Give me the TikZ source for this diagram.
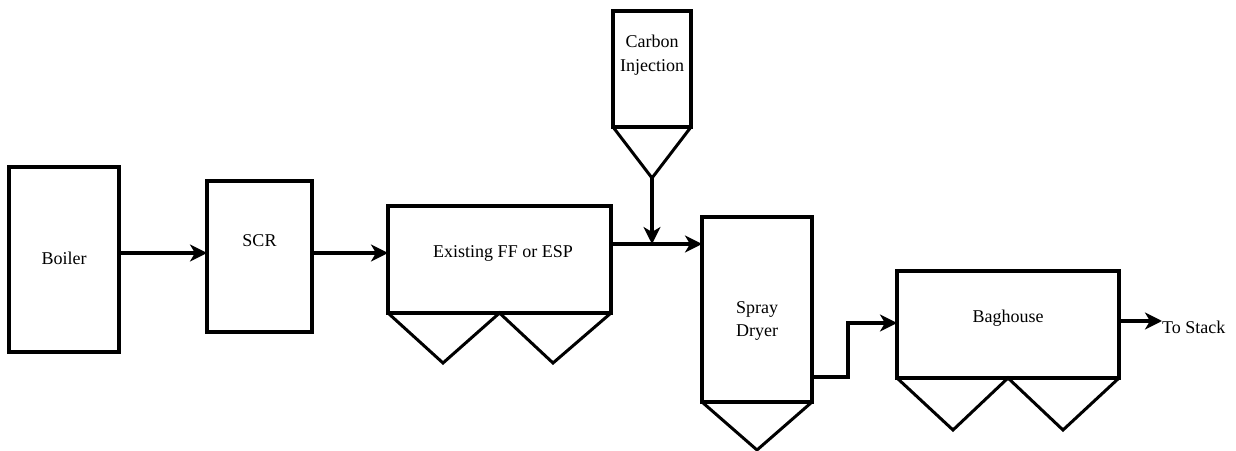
\documentclass[tikz,border=0pt]{standalone}
\usepackage{fontspec}
\setmainfont{Liberation Serif}
\newfontfamily\tnr{Liberation Serif}
\usetikzlibrary{arrows.meta}
\begin{document}
\begin{tikzpicture}[x=1bp,y=-1bp,
  unit/.style={draw,line width=3.6bp,rectangle,inner sep=0,outer sep=0},
  lbl/.style={font=\tnr\fontsize{18bp}{23.5bp}\selectfont,align=center,inner sep=0},
  tip/.style={-{Stealth[length=17bp,width=17bp,inset=5bp]}},
  flow/.style={line width=3.4bp,tip},
  hop/.style={line width=3bp,line join=miter}]
\useasboundingbox (0,0) rectangle (1236,451);
% units
\node[unit,minimum width=110bp,minimum height=185bp] (boiler) at (64,259.5) {};
\node[unit,minimum width=105bp,minimum height=151bp] (scr) at (259.5,256.5) {};
\node[unit,minimum width=223bp,minimum height=107bp] (ff) at (499.5,259.5) {};
\node[unit,minimum width=78bp,minimum height=116bp] (ci) at (652,69) {};
\node[unit,minimum width=110bp,minimum height=185bp] (sd) at (757,309.5) {};
\node[unit,minimum width=222bp,minimum height=107bp] (bh) at (1008,324.5) {};
% labels
\node[lbl] (boilert) at (64,258) {Boiler};
\node[lbl] (scrt) at (259.5,241) {SCR};
\node[lbl] (fft) at (503,253) {Existing FF or ESP};
\node[lbl] (cit) at (652,55) {Carbon\\Injection};
\node[lbl] (sdt) at (757,321) {Spray\\Dryer};
\node[lbl] (bht) at (1008,318) {Baghouse};
% hoppers
\coordinate (ffa) at (443,363);
\coordinate (ffb) at (553,363);
\draw[hop] (ff.south west) -- (ffa) -- (ff.south) -- (ffb) -- (ff.south east);
\coordinate (bha) at (953,430);
\coordinate (bhb) at (1063,430);
\draw[hop] (bh.south west) -- (bha) -- (bh.south) -- (bhb) -- (bh.south east);
\coordinate (sda) at (757,450);
\draw[hop] (sd.south west) -- (sda) -- (sd.south east);
\coordinate (cia) at (652,178);
\draw[hop] (ci.south west) -- (cia) -- (ci.south east);
% flows
\coordinate (y1) at (0,253);
\draw[flow] (boiler.east |- y1) -- (scr.west |- y1);
\draw[flow] (scr.east |- y1) -- (ff.west |- y1);
\coordinate (y2) at (0,244);
\draw[flow] (ff.east |- y2) -- (sd.west |- y2);
\coordinate (junc) at (652,244);
\draw[flow] (cia) -- (junc);
\coordinate (y3) at (0,377);
\coordinate (bend1) at (848,377);
\coordinate (bend2) at (848,323);
\draw[flow,line join=miter] (sd.east |- y3) -- (bend1) -- (bend2) -- (bh.west |- bend2);
\coordinate (y4) at (0,321);
\coordinate (stack) at (1162,321);
\draw[flow] (bh.east |- y4) -- (stack);
\node[lbl,anchor=west] (stackt) at (1162,327) {To Stack};
\end{tikzpicture}
\end{document}
